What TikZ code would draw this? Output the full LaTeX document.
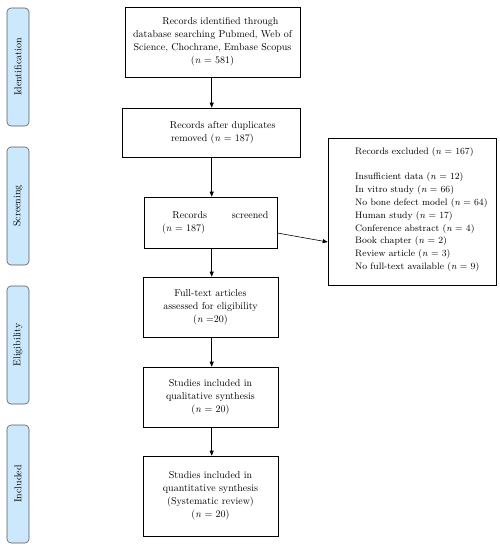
\documentclass[tikz,border=0pt]{standalone}
\usetikzlibrary{arrows.meta}
\definecolor{sidefill}{HTML}{CCE8FC}
\definecolor{sidedraw}{HTML}{5A5A5A}
\begin{document}
\begin{tikzpicture}[x=1pt,y=-1pt,
  font=\fontsize{10}{13}\selectfont,
  box/.style={draw=black, line width=0.6pt, inner sep=0pt},
  side/.style={draw=sidedraw, fill=sidefill, rounded corners=4pt, line width=0.6pt,
     rotate=90, minimum width=118pt, minimum height=22pt, inner sep=0pt},
  arr/.style={draw=black, line width=0.6pt, -{Triangle[length=5pt,width=4pt]}}]
\useasboundingbox (0,0) rectangle (500,550);

% side labels
\node[side] (sid) at (18,67) {Identification};
\node[side] (sscr) at (18,206) {Screening};
\node[side] (selg) at (18,345) {Eligibility};
\node[side] (sinc) at (18,484) {Included};

% boxes
\node[box, minimum width=175pt, minimum height=70pt, text width=168pt, align=center]
  (b1) at (212.5,42) {\hspace*{16pt}Records identified through\\database searching Pubmed, Web of\\Science, Chochrane, Embase Scopus\\(\textit{n} = 581)};
\node[box, minimum width=178pt, minimum height=49pt, text width=130pt, align=left]
  (b2) at (211,132.5) {\hspace*{24pt}Records after duplicates\\\hspace*{25pt}removed (\textit{n} = 187)};
\node[box, minimum width=133pt, minimum height=51pt, text width=116pt, align=left]
  (b3) at (210.5,222.5) {\hspace*{20pt}Records\hfill screened\\\hspace*{9.5pt}(\textit{n} = 187)};
\node[box, minimum width=135pt, minimum height=60pt, text width=130pt, align=center]
  (b4) at (210.5,307) {Full-text articles\\assessed for eligibility\\(\textit{n} =20)};
\node[box, minimum width=135pt, minimum height=60pt, text width=130pt, align=center]
  (b5) at (210.5,397) {Studies included in\\qualitative synthesis\\(\textit{n} = 20)};
\node[box, minimum width=135pt, minimum height=80pt, text width=130pt, align=center]
  (b6) at (210.5,496) {Studies included in\\quantitative synthesis\\(Systematic review)\\(\textit{n} = 20)};
\node[box, minimum width=168pt, minimum height=147pt] (ex) at (412,211.5) {};
\node[anchor=north west, inner sep=0pt, align=left, font=\fontsize{9.4}{12.8}\selectfont]
  (extext) at (355,147) {Records excluded (\textit{n} = 167)\\[12.8pt]
  Insufficient data (\textit{n} = 12)\\
  In vitro study (\textit{n} = 66)\\
  No bone defect model (\textit{n} = 64)\\
  Human study (\textit{n} = 17)\\
  Conference abstract (\textit{n} = 4)\\
  Book chapter (\textit{n} = 2)\\
  Review article (\textit{n} = 3)\\
  No full-text available (\textit{n} = 9)};

% connectors
\coordinate (c1) at (211.7,0);
\draw[arr] (c1 |- b1.south) -- (c1 |- b2.north);
\draw[arr] (c1 |- b2.south) -- (c1 |- b3.north);
\draw[arr] (c1 |- b3.south) -- (c1 |- b4.north);
\draw[arr] (c1 |- b4.south) -- (c1 |- b5.north);
\draw[arr] (c1 |- b5.south) -- (c1 |- b6.north);
\draw[arr] ([yshift=-10.5pt]b3.east) -- ([yshift=-30.5pt]ex.west);
\end{tikzpicture}
\end{document}
